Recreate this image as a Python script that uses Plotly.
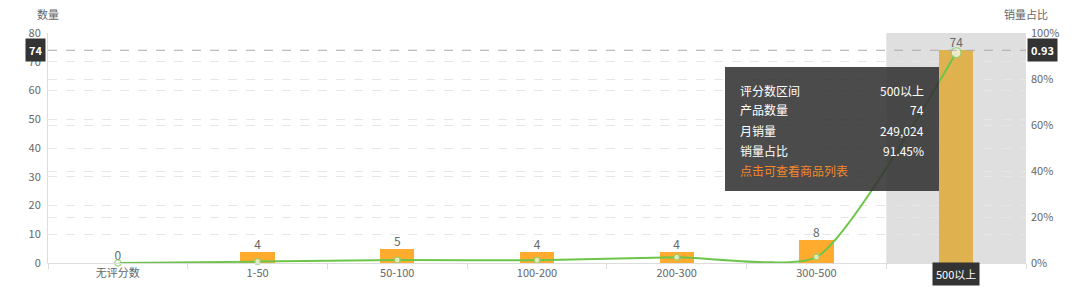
import plotly.graph_objects as go

categories = ["无评分数", "1-50", "50-100", "100-200", "200-300", "300-500", "500以上"]
product_counts = [0, 4, 5, 4, 4, 8, 74]
sales_share_pct = [0, 0.6, 1.3, 1.2, 2.5, 2.6, 91.45]
left_ticks = [0, 10, 20, 30, 40, 50, 60, 70, 80]
right_ticks = [0, 20, 40, 60, 80, 100]
tooltip_rows = [("评分数区间", "500以上"), ("产品数量", "74"), ("月销量", "249,024"), ("销量占比", "91.45%")]
tooltip_link = "点击可查看商品列表"
hover_index = 6
pointer_value = 74
pointer_share = "0.93"

W, H = 1080, 301
L, R, T, B = 48, 54, 33, 38
PW, PH = W - L - R, H - T - B
def px(x):
    return (x - L) / PW
def py(y):
    return (H - B - y) / PH

FONT = "Noto Sans CJK SC, Microsoft YaHei, sans-serif"
bar_colors = ["#FFAB2E"] * len(categories)
bar_colors[hover_index] = "#E0B24F"
marker_sizes = [6] * len(categories)
marker_sizes[hover_index] = 10

fig = go.Figure()
fig.add_trace(go.Bar(x=categories, y=product_counts, marker=dict(color=bar_colors, line=dict(width=0)),
                     width=0.245, hoverinfo="skip", yaxis="y"))
fig.add_trace(go.Scatter(x=categories, y=product_counts, mode="text", text=[str(v) for v in product_counts],
                         textposition="top center", textfont=dict(color="#666", size=12, family=FONT),
                         cliponaxis=False, hoverinfo="skip", yaxis="y"))
fig.add_trace(go.Scatter(x=categories, y=sales_share_pct, mode="lines+markers", yaxis="y2",
                         line=dict(color="#6CC54A", width=2, shape="spline", smoothing=0.55),
                         marker=dict(size=marker_sizes, color="white", line=dict(color="#8fd46f", width=1.5)),
                         cliponaxis=False, hoverinfo="skip"))

shapes = [
    dict(type="rect", xref="x", yref="paper", x0=hover_index - 0.5, x1=hover_index + 0.5, y0=0, y1=1,
         fillcolor="#DFDFDF", line=dict(width=0), layer="below"),
    dict(type="line", xref="paper", yref="y", x0=0, x1=1, y0=pointer_value, y1=pointer_value,
         line=dict(color="#AAAAAA", width=1, dash="dash"), layer="above"),
    dict(type="rect", xref="paper", yref="paper", x0=px(725), x1=px(939), y0=py(67), y1=py(191),
         fillcolor="rgba(50,50,50,0.88)", line=dict(width=0), layer="above"),
]

annotations = [
    dict(text="数量", xref="paper", yref="paper", x=px(48), y=py(14), xanchor="center", yanchor="middle",
         showarrow=False, font=dict(size=11, color="#666", family=FONT)),
    dict(text="销量占比", xref="paper", yref="paper", x=px(1026), y=py(14), xanchor="center", yanchor="middle",
         showarrow=False, font=dict(size=11, color="#666", family=FONT)),
    dict(text="<b>%d</b>" % pointer_value, xref="paper", yref="y", x=px(46), y=pointer_value, xanchor="right",
         yanchor="middle", showarrow=False, bgcolor="#333", borderpad=3,
         font=dict(size=11, color="white", family=FONT)),
    dict(text="<b>%s</b>" % pointer_share, xref="paper", yref="y", x=px(1027), y=pointer_value, xanchor="left",
         yanchor="middle", showarrow=False, bgcolor="#333", borderpad=3,
         font=dict(size=11, color="white", family=FONT)),
    dict(text=categories[hover_index], xref="x", yref="paper", x=hover_index, y=py(274), xanchor="center",
         yanchor="middle", showarrow=False, bgcolor="#333", borderpad=3,
         font=dict(size=11, color="white", family=FONT)),
]
row_y = [90, 110, 130, 150]
for (k, v), yy in zip(tooltip_rows, row_y):
    annotations.append(dict(text=k, xref="paper", yref="paper", x=px(738), y=py(yy), xanchor="left",
                            yanchor="middle", showarrow=False, font=dict(size=12, color="white", family=FONT)))
    annotations.append(dict(text=v, xref="paper", yref="paper", x=px(926), y=py(yy), xanchor="right",
                            yanchor="middle", showarrow=False, font=dict(size=12, color="white", family=FONT)))
annotations.append(dict(text=tooltip_link, xref="paper", yref="paper", x=px(738), y=py(170), xanchor="left",
                        yanchor="middle", showarrow=False, font=dict(size=12, color="#F5872A", family=FONT)))

fig.update_layout(
    width=W, height=H, autosize=False,
    margin=dict(l=L, r=R, t=T, b=B),
    paper_bgcolor="white", plot_bgcolor="white",
    showlegend=False, bargap=0,
    font=dict(family=FONT, color="#666", size=11),
    shapes=shapes, annotations=annotations,
    xaxis=dict(type="category", range=[-0.5, 6.5], showgrid=False, showline=True, linecolor="#DDDDDD",
               ticks="outside", tickson="boundaries", ticklen=5, tickcolor="#DDDDDD",
               tickfont=dict(size=11, color="#666"), zeroline=False),
    yaxis=dict(range=[0, 80], tickvals=left_ticks, showgrid=True, gridcolor="#E6E6E6", griddash="dash",
               showline=True, linecolor="#DDDDDD", zeroline=False, ticks="", ticklabelstandoff=4,
               tickfont=dict(size=11, color="#666")),
    yaxis2=dict(range=[0, 100], tickvals=right_ticks, ticktext=["%d%%" % v for v in right_ticks],
                overlaying="y", side="right", showgrid=True, gridcolor="#E6E6E6", griddash="dash",
                showline=False, zeroline=False, ticks="", ticklabelstandoff=4,
                tickfont=dict(size=11, color="#666")),
)
fig.write_html("out.html")
